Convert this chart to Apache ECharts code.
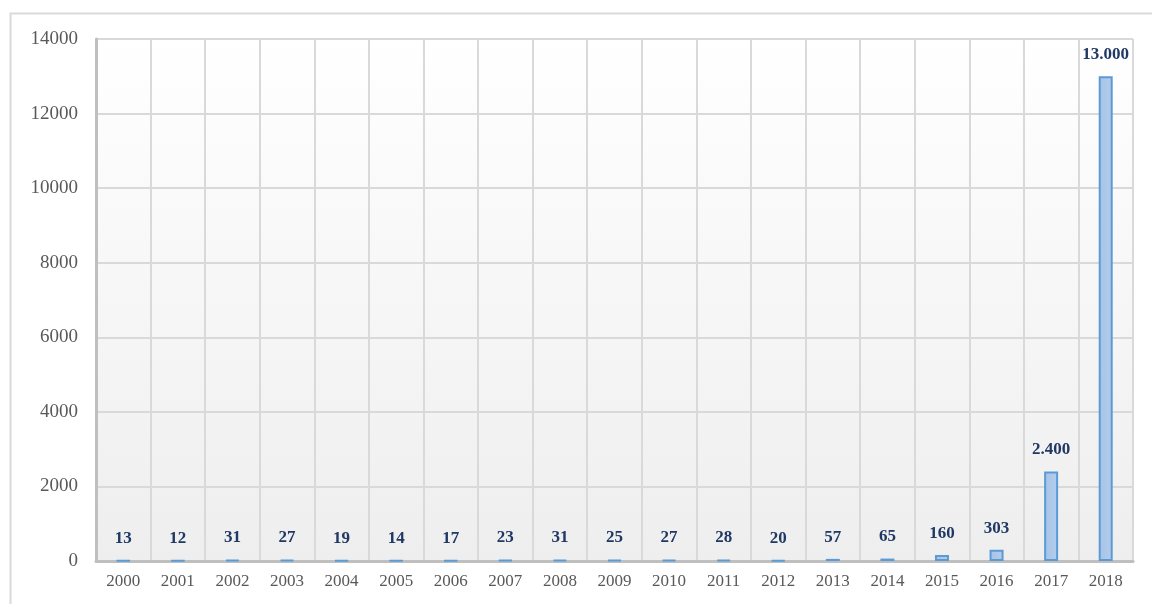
<!DOCTYPE html>
<html>
<head>
<meta charset="utf-8">
<script src="https://cdn.jsdelivr.net/npm/echarts@6/dist/echarts.min.js"></script>
<style>html,body{margin:0;padding:0;background:#fff}#c{width:1152px;height:604px}</style>
</head>
<body>
<div id="c"></div>
<script>
const years = ['2000','2001','2002','2003','2004','2005','2006','2007','2008','2009','2010','2011','2012','2013','2014','2015','2016','2017','2018'];
const values = [13,12,31,27,19,14,17,23,31,25,27,28,20,57,65,160,303,2400,13000];
const yTicks = [0,2000,4000,6000,8000,10000,12000,14000];

const chart = echarts.init(document.getElementById('c'));
const serif = '"Liberation Serif","Times New Roman",serif';
chart.setOption({
  animation: false,
  graphic: [{
    type: 'rect', left: 8, top: 11, z: -10,
    shape: { width: 1160, height: 620 },
    style: { fill: 'none', stroke: '#d9d9d9', lineWidth: 2 }
  }],
  grid: {
    left: 96, right: 19, top: 39, bottom: 43, show: true,
    borderWidth: 0,
    backgroundColor: new echarts.graphic.LinearGradient(0, 0, 0, 1, [
      { offset: 0, color: '#ffffff' }, { offset: 1, color: '#eeeeee' }
    ])
  },
  xAxis: {
    type: 'category', data: years, boundaryGap: true,
    axisLine: { show: true, lineStyle: { color: '#bfbfbf', width: 3 } },
    axisTick: { show: false },
    axisLabel: { color: '#595959', fontFamily: serif, fontSize: 17, margin: 12 },
    splitLine: { show: true, interval: 0, lineStyle: { color: '#d9d9d9', width: 2 } }
  },
  yAxis: {
    type: 'value', min: yTicks[0], max: yTicks[yTicks.length - 1], interval: 2000,
    axisLine: { show: true, lineStyle: { color: '#bfbfbf', width: 3 } },
    axisTick: { show: false },
    axisLabel: { color: '#595959', fontFamily: serif, fontSize: 19, margin: 18, formatter: v => String(v) },
    splitLine: { show: true, lineStyle: { color: '#d9d9d9', width: 2 } }
  },
  series: [{
    type: 'bar', data: values, barWidth: 14,
    itemStyle: {
      color: new echarts.graphic.LinearGradient(0, 0, 1, 0, [
        { offset: 0, color: '#a7c3e6' }, { offset: 1, color: '#b3cdec' }
      ]),
      borderColor: '#5b9bd5', borderWidth: 2
    },
    label: {
      show: true, position: 'top', distance: 13,
      color: '#1f3864', fontFamily: serif, fontWeight: 'bold', fontSize: 17,
      formatter: p => String(p.value).replace(/\B(?=(\d{3})+(?!\d))/g, '.')
    }
  }]
});
</script>
</body>
</html>
